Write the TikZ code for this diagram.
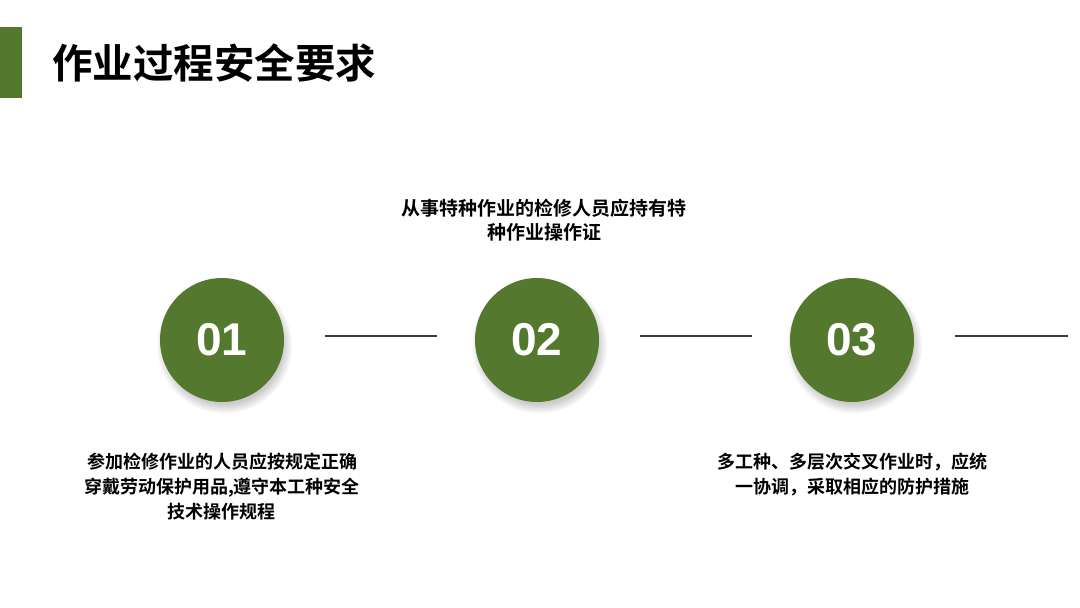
\documentclass[tikz,border=0pt]{standalone}
\usepackage{fontspec}
\setmainfont{Liberation Sans}
\newfontfamily\cjk{Noto Sans CJK SC}[BoldFont={Noto Sans CJK SC Bold}]
\usetikzlibrary{positioning,shadows}
\definecolor{leaf}{RGB}{84,120,46}
\definecolor{rulegray}{RGB}{60,60,60}
\begin{document}
\begin{tikzpicture}[x=1pt,y=1pt,node distance=315pt]
\tikzstyle{st}=[circle,fill=leaf,minimum size=124pt,inner sep=0pt,text=white,font=\bfseries\fontsize{46}{46}\selectfont,circular drop shadow={shadow xshift=2pt,shadow yshift=-5pt,opacity=0.4}]
\tikzstyle{txt}=[align=center,inner sep=0pt,font=\cjk\bfseries\fontsize{18}{25}\selectfont]
\tikzstyle{link}=[rulegray,line width=2pt]
\useasboundingbox (0,0) rectangle (1080,-608);
\fill[leaf] (0,-27) rectangle (22,-98);
\node[anchor=west,inner sep=0pt,font=\cjk\bfseries\fontsize{40.5}{40.5}\selectfont] (title) at (52,-63) {作业过程安全要求};
\node[st] (c1) at (222,-340) {01};
\node[st,right of=c1] (c2) {02};
\node[st,right of=c2] (c3) {03};
\coordinate[right of=c3,xshift=-99pt,yshift=4pt] (tail);
\node[txt,above=36pt of c2,xshift=7pt,font=\cjk\bfseries\fontsize{19}{24}\selectfont] (t2) {从事特种作业的检修人员应持有特\\种作业操作证};
\node[txt,below=51pt of c1] (t1) {参加检修作业的人员应按规定正确\\穿戴劳动保护用品,遵守本工种安全\\技术操作规程};
\node[txt,below=51pt of c3] (t3) {多工种、多层次交叉作业时，应统\\一协调，采取相应的防护措施};
\draw[link,shorten <=41pt,shorten >=38pt] ([yshift=4pt]c1.east)--([yshift=4pt]c2.west);
\draw[link,shorten <=41pt,shorten >=38pt] ([yshift=4pt]c2.east)--([yshift=4pt]c3.west);
\draw[link,shorten <=41pt] ([yshift=4pt]c3.east)--(tail);
\end{tikzpicture}
\end{document}
